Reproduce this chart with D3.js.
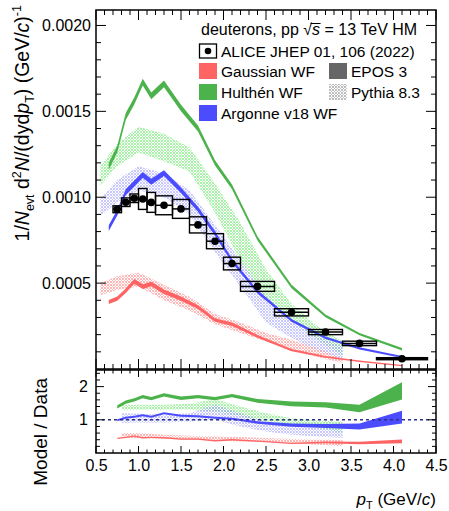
<!DOCTYPE html>
<html><head><meta charset="utf-8">
<script src="https://cdn.jsdelivr.net/npm/d3@7"></script>
<style>
html,body{margin:0;padding:0;background:#fff;}
svg{display:block;font-family:"Liberation Sans",Arial,sans-serif;}
</style></head>
<body>
<svg id="c" width="449" height="511"></svg>
<script>
// ---------------- DATA ----------------
const ptEdges = [0.7,0.8,0.9,1.0,1.1,1.2,1.4,1.6,1.8,2.0,2.2,2.6,3.0,3.4,3.8,4.4];
const ptData = [0.75,0.85,0.95,1.05,1.15,1.3,1.5,1.7,1.9,2.1,2.4,2.8,3.2,3.6,4.1];
const yieldData = [0.000930,0.000971,0.000994,0.000990,0.000970,0.000953,0.000932,0.000839,0.000744,0.000614,0.000481,0.000330,0.000215,0.000149,0.000060];
const systData = [0.000020,0.000025,0.000025,0.000061,0.000058,0.000055,0.000055,0.000047,0.000044,0.000037,0.000029,0.000021,0.000015,0.000013,0.000006];

// EPOS 3 coalescence (solid bands)
const ptEpos = [0.65,0.75,0.85,0.95,1.05,1.15,1.3,1.5,1.7,1.9,2.1,2.4,2.8,3.2,3.6,4.1];
const eposGaus = [0.00039,0.00041,0.000456,0.00051,0.00048,0.000495,0.00045,0.00041,0.00036,0.000285,0.00026,0.00019,0.00011,0.00007,0.000045,0.00002];
const eposGausErr = [0.000012,0.000012,0.000013,0.000014,0.000014,0.000013,0.000013,0.000012,0.000011,0.00001,0.00001,0.000008,0.000006,0.000005,0.000004,0.000004];
const eposHulth = [0.00118,0.00128,0.00147,0.00156,0.00167,0.00159,0.00166,0.00152,0.00140,0.00120,0.00106,0.00076,0.00048,0.00031,0.000203,0.000115];
const eposHulthErr = [0.00002,0.00002,0.00002,0.00002,0.00002,0.00002,0.00002,0.000019,0.000018,0.000016,0.000014,0.000012,0.00001,0.000008,0.000007,0.000007];
const eposArg = [0.00082,0.00091,0.00103,0.00108,0.00113,0.00109,0.00114,0.00104,0.00093,0.00079,0.00063,0.00045,0.000283,0.000182,0.00012,0.00007];
const eposArgErr = [0.000017,0.000017,0.000017,0.000017,0.000017,0.000017,0.000017,0.000016,0.000015,0.000014,0.000012,0.00001,0.000008,0.000007,0.000006,0.000006];

// PYTHIA 8.3 coalescence (hatched bands)
const ptPy = [0.55,0.75,1.0,1.3,1.6,1.9,2.2,2.5,2.8,3.1,3.4];
const pyGausLo = [0.00043,0.00046,0.00048,0.00040,0.00034,0.00026,0.00021,0.00016,0.00011,0.00007,0.000035];
const pyGausHi = [0.00050,0.00054,0.00056,0.00049,0.00042,0.00032,0.00027,0.00021,0.00017,0.00012,0.00006];
const pyHulthLo = [0.00107,0.00118,0.00126,0.00121,0.00115,0.00091,0.00063,0.00040,0.00028,0.00017,0.00008];
const pyHulthHi = [0.00118,0.00131,0.00141,0.00137,0.00129,0.00108,0.00085,0.00058,0.00038,0.00025,0.00016];
const pyArgLo = [0.00089,0.00097,0.00104,0.00100,0.00090,0.00068,0.00048,0.00027,0.00018,0.00011,0.00006];
const pyArgHi = [0.00099,0.00110,0.00118,0.00114,0.00104,0.00084,0.00063,0.00042,0.00029,0.00019,0.00013];

// Model / Data ratios (EPOS)
const ratioGaus = [0.44,0.47,0.51,0.46,0.47,0.46,0.42,0.42,0.37,0.40,0.36,0.29,0.32,0.30,0.35];
const ratioGausErr = [0.02,0.02,0.02,0.02,0.02,0.02,0.02,0.02,0.02,0.02,0.02,0.02,0.03,0.04,0.06];
const ratioHulth = [1.39,1.53,1.60,1.70,1.64,1.75,1.65,1.70,1.64,1.73,1.57,1.48,1.45,1.34,1.87];
const ratioHulthErr = [0.05,0.05,0.05,0.05,0.05,0.05,0.05,0.05,0.05,0.05,0.06,0.07,0.08,0.11,0.26];
const ratioArg = [0.99,1.06,1.09,1.14,1.09,1.20,1.12,1.11,1.06,1.03,0.92,0.84,0.81,0.80,1.08];
const ratioArgErr = [0.03,0.03,0.03,0.03,0.03,0.03,0.03,0.03,0.03,0.03,0.04,0.05,0.06,0.09,0.19];
// Model / Data ratios (PYTHIA)
const ptPyRatio = [0.8,1.0,1.3,1.6,1.9,2.2,2.5,2.8,3.1,3.4];
const pyRatioGausLo = [0.45,0.45,0.43,0.40,0.38,0.35,0.33,0.30,0.25,0.20];
const pyRatioGausHi = [0.60,0.60,0.55,0.52,0.50,0.48,0.45,0.42,0.40,0.40];
const pyRatioHulthLo = [1.30,1.30,1.30,1.30,1.25,1.10,0.95,0.85,0.75,0.62];
const pyRatioHulthHi = [1.45,1.45,1.45,1.48,1.62,1.40,1.20,1.05,0.98,0.95];
const pyRatioArgLo = [0.90,0.92,0.92,0.95,1.00,0.80,0.65,0.55,0.50,0.45];
const pyRatioArgHi = [1.20,1.18,1.15,1.20,1.45,1.20,0.95,0.80,0.75,0.70];

const xTickLabels = ["0.5","1.0","1.5","2.0","2.5","3.0","3.5","4.0","4.5"];
const yTopTickLabels = ["0.0005","0.0010","0.0015","0.0020"];
const yBotTickLabels = ["1","2"];

// ---------------- STYLE ----------------
const C = {red:"#ff6464", green:"#4cb24c", blue:"#4c4cff", grey:"#666666",
           pyRed:"#ff7a7a", pyGreen:"#5ee85e", pyBlue:"#9a9aff", pyGrey:"#888888"};
const L = 96, R = 436, T1 = 10, B1 = 369, T2 = 370, B2 = 453;

const svg = d3.select("#c");
const x = d3.scaleLinear().domain([0.5,4.5]).range([L,R]);
const yT = d3.scaleLinear().domain([0,0.00209]).range([B1,T1]);
const yB = d3.scaleLinear().domain([0,2.5]).range([B2,T2]);

// patterns
const defs = svg.append("defs");
function mkPattern(id, col){
  const p = defs.append("pattern").attr("id",id).attr("patternUnits","userSpaceOnUse")
    .attr("width",3).attr("height",3);
  [[0,0],[2,0],[1,1],[0,2],[2,2]].forEach(([a,b])=>p.append("rect").attr("x",a).attr("y",b)
    .attr("width",1).attr("height",1).attr("fill",col).attr("fill-opacity",0.55));
}
mkPattern("pR",C.pyRed); mkPattern("pG",C.pyGreen); mkPattern("pB",C.pyBlue); mkPattern("pK",C.pyGrey);
defs.append("clipPath").attr("id","clipT").append("rect").attr("x",L).attr("y",T1).attr("width",R-L).attr("height",B1-T1);
defs.append("clipPath").attr("id","clipB").append("rect").attr("x",L).attr("y",T2).attr("width",R-L).attr("height",B2-T2);

const gT = svg.append("g").attr("clip-path","url(#clipT)");
const gB = svg.append("g").attr("clip-path","url(#clipB)");

function band(g, xs, lo, hi, yS, fill){
  const d = xs.map((v,i)=>({x:v, lo:lo[i], hi:hi[i]}));
  g.append("path").datum(d).attr("fill",fill)
    .attr("d", d3.area().x(p=>x(p.x)).y0(p=>yS(p.lo)).y1(p=>yS(p.hi)));
}
function bandC(g, xs, c, e, yS, fill){
  band(g, xs, c.map((v,i)=>v-e[i]), c.map((v,i)=>v+e[i]), yS, fill);
}

// ---- Top panel ----
band(gT, ptPy, pyHulthLo, pyHulthHi, yT, "url(#pG)");
band(gT, ptPy, pyArgLo, pyArgHi, yT, "url(#pB)");
band(gT, ptPy, pyGausLo, pyGausHi, yT, "url(#pR)");
bandC(gT, ptEpos, eposHulth, eposHulthErr, yT, C.green);
bandC(gT, ptEpos, eposArg, eposArgErr, yT, C.blue);
bandC(gT, ptEpos, eposGaus, eposGausErr, yT, C.red);

// data: syst boxes, x-error bars, points
const pts = ptData.map((v,i)=>({x:v, y:yieldData[i], s:systData[i], lo:ptEdges[i], hi:ptEdges[i+1]}));
gT.selectAll("rect.sys").data(pts).join("rect").attr("class","sys")
  .attr("x",d=>x(d.lo)).attr("width",d=>x(d.hi)-x(d.lo))
  .attr("y",d=>yT(d.y+d.s)).attr("height",d=>yT(d.y-d.s)-yT(d.y+d.s))
  .attr("fill","none").attr("stroke","#000").attr("stroke-width",1.4);
gT.selectAll("line.ex").data(pts).join("line").attr("class","ex")
  .attr("x1",d=>x(d.lo)).attr("x2",d=>x(d.hi)).attr("y1",d=>yT(d.y)).attr("y2",d=>yT(d.y))
  .attr("stroke","#000").attr("stroke-width",(d,i)=>i===pts.length-1?2.5:1.5);
gT.selectAll("circle.pt").data(pts).join("circle").attr("class","pt")
  .attr("cx",d=>x(d.x)).attr("cy",d=>yT(d.y)).attr("r",3.8).attr("fill","#000");

// ---- Bottom panel ----
band(gB, ptPyRatio, pyRatioHulthLo, pyRatioHulthHi, yB, "url(#pG)");
band(gB, ptPyRatio, pyRatioArgLo, pyRatioArgHi, yB, "url(#pB)");
band(gB, ptPyRatio, pyRatioGausLo, pyRatioGausHi, yB, "url(#pR)");
bandC(gB, ptData, ratioHulth, ratioHulthErr, yB, C.green);
bandC(gB, ptData, ratioArg, ratioArgErr, yB, C.blue);
bandC(gB, ptData, ratioGaus, ratioGausErr, yB, C.red);
gB.append("line").attr("x1",L).attr("x2",R).attr("y1",yB(1)).attr("y2",yB(1))
  .attr("stroke","#2e2e86").attr("stroke-width",1.6).attr("stroke-dasharray","3,3");

// ---- Frames & ticks ----
function frame(t,b){
  svg.append("rect").attr("x",L).attr("y",t).attr("width",R-L).attr("height",b-t)
    .attr("fill","none").attr("stroke","#000").attr("stroke-width",1.5);
}
frame(T1,B1); frame(T2,B2);

function xTicks(t,b,majL,minL){
  const g = svg.append("g");
  d3.range(5,46).forEach(k=>{
    const v=k/10, len = (k%5===0)?majL:minL, px=x(v);
    g.append("line").attr("x1",px).attr("x2",px).attr("y1",b).attr("y2",b-len).attr("stroke","#000");
    g.append("line").attr("x1",px).attr("x2",px).attr("y1",t).attr("y2",t+len).attr("stroke","#000");
  });
}
xTicks(T1,B1,10,5);
xTicks(T2,B2,7,3.5);

function yTicks(scale, vals, majorTest, majL, minL){
  const g = svg.append("g");
  vals.forEach(v=>{
    const len = majorTest(v)?majL:minL, py = scale(v);
    g.append("line").attr("x1",L).attr("x2",L+len).attr("y1",py).attr("y2",py).attr("stroke","#000");
    g.append("line").attr("x1",R).attr("x2",R-len).attr("y1",py).attr("y2",py).attr("stroke","#000");
  });
}
yTicks(yT, d3.range(1,21).map(k=>k*0.0001), v=>Math.abs(v*2000-Math.round(v*2000))<1e-6, 10, 5);
yTicks(yB, d3.range(1,13).map(k=>k*0.2), v=>Math.abs(v-Math.round(v))<1e-6, 8, 4);

// tick labels via d3 axes (text only)
const xAx = svg.append("g").attr("transform",`translate(0,${B2})`)
  .call(d3.axisBottom(x).tickValues(xTickLabels.map(Number)).tickFormat((d,i)=>xTickLabels[i]).tickSize(0).tickPadding(7));
const yAxT = svg.append("g").attr("transform",`translate(${L},0)`)
  .call(d3.axisLeft(yT).tickValues(yTopTickLabels.map(Number)).tickFormat((d,i)=>yTopTickLabels[i]).tickSize(0).tickPadding(5));
const yAxB = svg.append("g").attr("transform",`translate(${L},0)`)
  .call(d3.axisLeft(yB).tickValues(yBotTickLabels.map(Number)).tickFormat((d,i)=>yBotTickLabels[i]).tickSize(0).tickPadding(8));
[xAx,yAxT,yAxB].forEach(a=>{a.select(".domain").remove();
  a.selectAll("text").attr("font-size",16).attr("fill","#000").attr("font-family","Liberation Sans, Arial, sans-serif");});

// ---- Axis titles ----
const xt = svg.append("text").attr("x",R).attr("y",505).attr("text-anchor","end").attr("font-size",17);
xt.append("tspan").attr("font-style","italic").text("p");
xt.append("tspan").attr("font-size",11).attr("dy",4).text("T");
xt.append("tspan").attr("dy",-4).text(" (GeV/");
xt.append("tspan").attr("font-style","italic").text("c");
xt.append("tspan").text(")");

const yt = svg.append("text").attr("transform","translate(29,5) rotate(-90)").attr("text-anchor","end").attr("font-size",19.5);
yt.append("tspan").text("1/");
yt.append("tspan").attr("font-style","italic").text("N");
yt.append("tspan").attr("font-size",12.5).attr("dy",4.5).text("evt");
yt.append("tspan").attr("dy",-4.5).text(" d");
yt.append("tspan").attr("font-size",12.5).attr("dy",-8).text("2");
yt.append("tspan").attr("dy",8).attr("font-style","italic").text("N");
yt.append("tspan").text("/(dyd");
yt.append("tspan").attr("font-style","italic").text("p");
yt.append("tspan").attr("font-size",12.5).attr("dy",4.5).text("T");
yt.append("tspan").attr("dy",-4.5).text(") (GeV/");
yt.append("tspan").attr("font-style","italic").text("c");
yt.append("tspan").text(")");
yt.append("tspan").attr("font-size",12.5).attr("dy",-8).text("-1");

svg.append("text").attr("transform","translate(47,378) rotate(-90)").attr("text-anchor","end")
  .attr("font-size",19).text("Model / Data");

// ---- Legend ----
const title = svg.append("text").attr("x",201).attr("y",35).attr("font-size",16);
title.append("tspan").text("deuterons, pp ");
title.append("tspan").text("\u221A");
title.append("tspan").attr("font-style","italic").text("s");
title.append("tspan").text(" = 13 TeV HM");
{
  const n = title.node();
  const i0 = "deuterons, pp ".length;
  const b = n.getEndPositionOfChar(i0+1);
  const sq = n.getExtentOfChar(i0);
  svg.append("line").attr("x1",sq.x+sq.width-1.5).attr("x2",b.x+0.5).attr("y1",sq.y+2.5).attr("y2",sq.y+2.5)
    .attr("stroke","#000").attr("stroke-width",1);
}
// ALICE marker
svg.append("rect").attr("x",199.5).attr("y",44).attr("width",17).attr("height",14).attr("fill","none").attr("stroke","#000").attr("stroke-width",1.3);
svg.append("circle").attr("cx",208).attr("cy",51).attr("r",3.3).attr("fill","#000");
svg.append("text").attr("x",221).attr("y",56.5).attr("font-size",15.5).text("ALICE JHEP 01, 106 (2022)");

const legItems = [
  {c:C.red, t:"Gaussian WF", x:199, y:71},
  {c:C.green, t:"Hulth\u00E9n WF", x:199, y:92},
  {c:C.blue, t:"Argonne v18 WF", x:199, y:113},
  {c:C.grey, t:"EPOS 3", x:329, y:71},
  {c:"url(#pK)", t:"Pythia 8.3", x:329, y:92}
];
legItems.forEach(d=>{
  svg.append("rect").attr("x",d.x).attr("y",d.y-8).attr("width",18).attr("height",16).attr("fill",d.c);
  svg.append("text").attr("x",d.x+22).attr("y",d.y+5.5).attr("font-size",15.5).text(d.t);
});
</script>
</body></html>
